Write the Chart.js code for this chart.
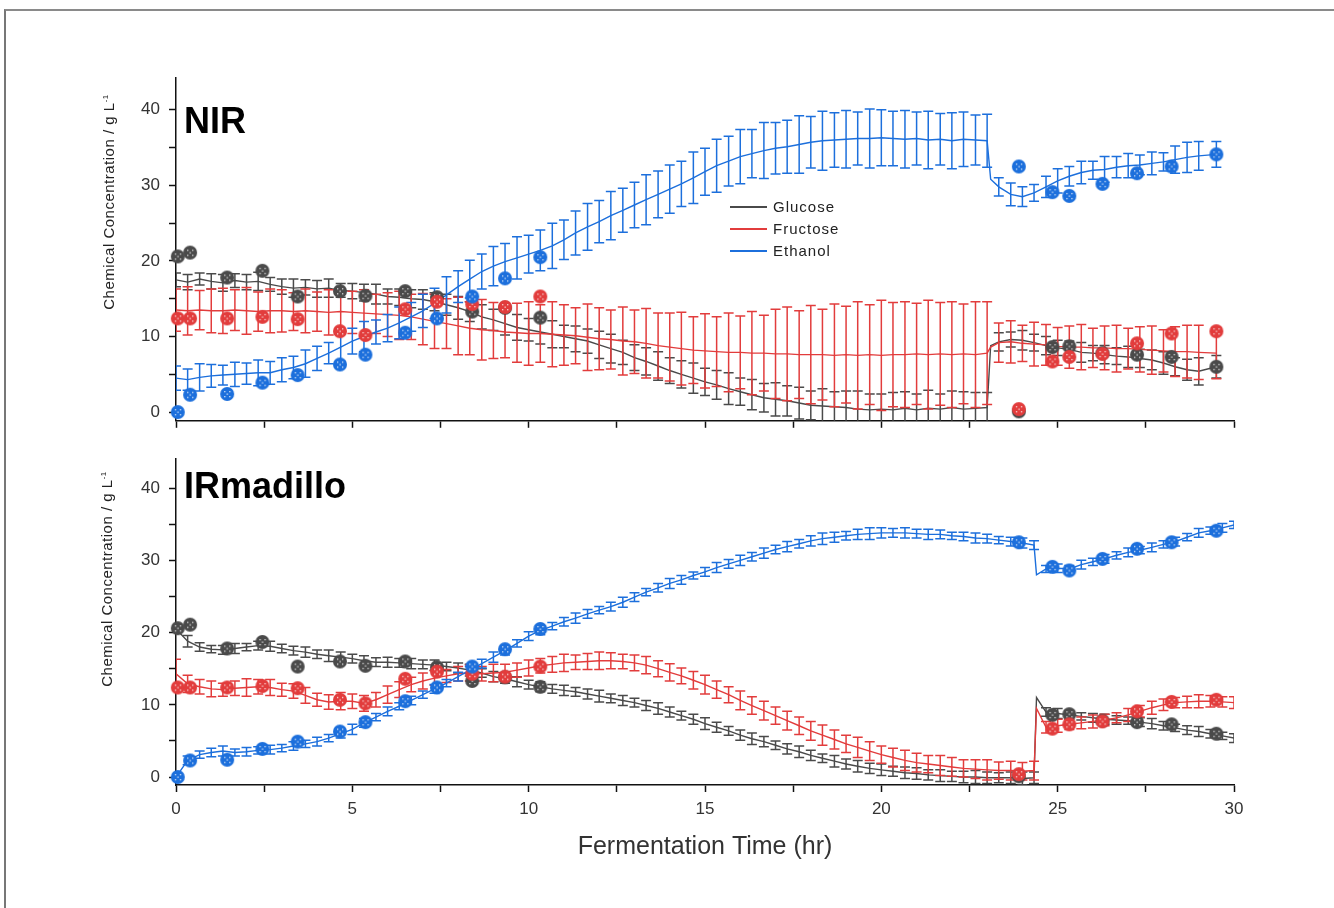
<!DOCTYPE html>
<html>
<head>
<meta charset="utf-8">
<script src="https://cdn.jsdelivr.net/npm/chart.js@4.4.1/dist/chart.umd.min.js"></script>
<style>
  html, body { margin: 0; padding: 0; background: #fff; }
  body { width: 1334px; height: 908px; position: relative; overflow: hidden; font-family: 'Liberation Sans', Arial, sans-serif; }
  .frame { position: absolute; left: 4px; top: 9px; width: 1400px; height: 1000px; border-left: 2px solid #777; border-top: 2px solid #8a8a8a; }
  canvas { position: absolute; left: 0; }
  #topChart { top: 0; }
  #bottomChart { top: 440px; }
  .panel-label { position: absolute; left: 184px; font-size: 36px; font-weight: bold; line-height: 36px; color: #000; }
  .ytitle { position: absolute; font-size: 15px; letter-spacing: 0.5px; color: #222; white-space: nowrap; transform: translate(-50%, -50%) rotate(-90deg); }
  .ytitle sup { font-size: 8px; }
  .legend { position: absolute; left: 730px; top: 196px; font-size: 15px; letter-spacing: 1px; color: #222; }
  .legend div { height: 22px; line-height: 22px; display: flex; align-items: center; }
  .legend span.sw { display: inline-block; width: 37px; height: 2px; margin-right: 6px; }
</style>
</head>
<body>
<div class="frame"></div>
<canvas id="topChart" width="1334" height="440"></canvas>
<canvas id="bottomChart" width="1334" height="468"></canvas>
<div class="panel-label" style="top:103px">NIR</div>
<div class="panel-label" style="top:468px">IRmadillo</div>
<div class="ytitle" style="left:108px; top:202px">Chemical Concentration / g L<sup>-1</sup></div>
<div class="ytitle" style="left:106px; top:579px">Chemical Concentration / g L<sup>-1</sup></div>
<div class="legend">
  <div><span class="sw" style="background:#4a4a4a"></span>Glucose</div>
  <div><span class="sw" style="background:#e23c3c"></span>Fructose</div>
  <div><span class="sw" style="background:#1c6fdc"></span>Ethanol</div>
</div>
<script>
const GRAY = '#4a4a4a';
const RED = '#e23c3c';
const BLUE = '#1c6fdc';

// offline (HPLC) samples, same in both panels
const measTime = [0.05, 0.4, 1.45, 2.45, 3.45, 4.65, 5.37, 6.5, 7.4, 8.4, 9.33, 10.33, 23.9, 24.85, 25.33, 26.27, 27.25, 28.23, 29.5];
const measGlucose = [20.6, 21.1, 17.8, 18.7, 15.3, 16.0, 15.4, 16.0, 15.2, 13.3, 13.8, 12.5, 0.1, 8.6, 8.7, 7.8, 7.6, 7.3, 6.0];
const measFructose = [12.4, 12.4, 12.4, 12.6, 12.3, 10.7, 10.2, 13.6, 14.6, 14.3, 13.9, 15.3, 0.4, 6.7, 7.3, 7.7, 9.1, 10.4, 10.7];
const measEthanol = [0.0, 2.3, 2.4, 3.9, 4.9, 6.3, 7.6, 10.5, 12.4, 15.3, 17.7, 20.5, 32.5, 29.1, 28.6, 30.2, 31.6, 32.5, 34.1];

// NIR predictions
const timeNIR = [0, 0.33, 0.67, 1, 1.33, 1.67, 2, 2.33, 2.67, 3,
  3.33, 3.67, 4, 4.33, 4.67, 5, 5.33, 5.67, 6, 6.33, 6.67,
  7, 7.33, 7.67, 8, 8.33, 8.67, 9, 9.33, 9.67, 10,
  10.33, 10.67, 11, 11.33, 11.67, 12, 12.33, 12.67, 13, 13.33, 13.67,
  14, 14.33, 14.67, 15, 15.33, 15.67, 16, 16.33, 16.67, 17,
  17.33, 17.67, 18, 18.33, 18.67, 19, 19.33, 19.67, 20, 20.33, 20.67,
  21, 21.33, 21.67, 22, 22.33, 22.67, 23,
  23.1,
  23.33, 23.67, 24, 24.33, 24.67, 25, 25.33, 25.67, 26, 26.33, 26.67, 27, 27.33, 27.67, 28, 28.33, 28.67, 29, 29.5];
const glucoseNIR = [17.5, 17.2, 17.6, 17.3, 17.1, 17.4, 17.2, 17.3, 16.9, 16.6,
  16.4, 16.5, 16.3, 16.4, 16.1, 16.0, 15.8, 15.6, 15.3, 15.2, 15.0,
  14.9, 14.6, 14.2, 13.8, 13.3, 12.6, 12.2, 11.7, 11.2, 10.9,
  10.6, 10.3, 10.0, 9.7, 9.4, 8.9, 8.4, 7.9, 7.2, 6.7, 6.1,
  5.5, 5.0, 4.5, 4.0, 3.6, 3.1, 2.7, 2.3, 1.9, 1.7,
  1.5, 1.2, 0.9, 0.8, 0.7, 0.6, 0.4, 0.3, 0.4, 0.3, 0.5,
  0.3, 0.5, 0.4, 0.6, 0.4, 0.5, 0.6,
  8.8,
  9.3, 9.6, 9.5, 9.2, 8.8, 8.5, 8.3, 7.9, 7.8, 7.6, 7.4, 7.3, 7.1, 6.9, 6.5, 6.0, 5.6, 5.4, 6.0];
const glucoseNIRErr = [0.9, 1.0, 0.8, 1.0, 1.1, 0.9, 1.0, 1.2, 0.9, 1.0,
  1.2, 1.0, 1.1, 1.2, 0.9, 1.0, 1.1, 1.3, 1.0, 1.1, 1.2,
  1.3, 1.2, 1.4, 1.5, 1.3, 1.6, 1.4, 1.5, 1.7, 1.5,
  1.6, 1.8, 1.5, 1.7, 1.6, 1.8, 1.9, 1.6, 1.7, 1.8, 1.9,
  1.7, 1.8, 2.0, 1.8, 1.9, 2.1, 1.8, 2.0, 1.9, 2.2,
  2.0, 2.1, 1.9, 2.3, 2.0, 2.2, 2.4, 2.1, 2.0, 2.3, 2.2,
  2.1, 2.4, 2.0, 2.2, 2.3, 2.1, 2.0,
  0,
  1.2, 1.0, 1.3, 1.1, 1.2, 1.0, 1.1, 1.3, 1.0, 1.2, 1.1, 1.4, 1.2, 1.3, 1.5, 1.2, 1.4, 1.8, 1.5];
const fructoseNIR = [13.5, 13.4, 13.5, 13.4, 13.4, 13.5, 13.4, 13.3, 13.4, 13.4,
  13.3, 13.4, 13.3, 13.2, 13.3, 13.2, 13.1, 13.0, 12.9, 12.8, 12.6,
  12.3, 12.0, 11.7, 11.4, 11.1, 10.9, 10.8, 10.6, 10.5, 10.4,
  10.4, 10.3, 10.2, 10.1, 9.9, 9.7, 9.6, 9.4, 9.3, 9.1, 8.8,
  8.6, 8.4, 8.2, 8.1, 8.0, 7.9, 7.9, 7.8, 7.8, 7.7,
  7.7, 7.6, 7.6, 7.6, 7.5, 7.6, 7.5, 7.6, 7.5, 7.6, 7.6,
  7.7, 7.6, 7.7, 7.6, 7.7, 7.6, 7.8,
  8.6,
  9.2, 9.3, 9.1, 9.0, 8.9, 8.7, 8.6, 8.6, 8.5, 8.5, 8.4, 8.4, 8.3, 8.2, 8.1, 8.0, 8.0, 7.9, 7.8];
const fructoseNIRErr = [2.8, 3.2, 2.6, 2.9, 3.0, 2.7, 3.1, 2.6, 2.9, 2.8,
  2.5, 2.9, 2.6, 3.0, 2.7, 2.8, 3.1, 2.6, 2.9, 3.2, 3.0,
  3.4, 3.6, 3.3, 3.8, 3.5, 4.0, 3.7, 3.4, 3.9, 4.2,
  3.8, 4.3, 4.0, 3.7, 4.4, 4.1, 3.9, 4.5, 4.2, 4.6, 4.3,
  4.5, 4.8, 4.4, 4.9, 4.6, 5.2, 4.8, 5.5, 5.0, 5.9,
  6.2, 5.8, 6.5, 6.0, 6.8, 6.4, 7.1, 6.6, 7.3, 6.9, 7.0,
  6.7, 7.2, 6.8, 7.0, 6.6, 7.0, 6.8,
  0,
  2.6, 2.8, 2.4, 2.9, 2.7, 2.5, 2.8, 3.0, 2.6, 2.9, 3.1, 2.7, 3.0, 3.2, 2.8, 3.3, 3.5, 3.6, 3.4];
const ethanolNIR = [4.5, 4.3, 4.6, 4.8, 4.9, 5.0, 5.1, 5.2, 5.2, 5.6,
  5.9, 6.4, 7.1, 7.8, 8.6, 9.4, 10.0, 10.6, 11.1, 11.8, 12.6,
  13.4, 14.4, 15.5, 16.6, 17.6, 18.6, 19.3, 19.9, 20.4, 20.9,
  21.4, 22.0, 22.8, 23.7, 24.5, 25.2, 26.0, 26.7, 27.4, 28.1, 28.8,
  29.5, 30.2, 31.0, 31.8, 32.6, 33.2, 33.8, 34.2, 34.6, 34.9,
  35.1, 35.4, 35.7, 35.9, 36.0, 36.1, 36.2, 36.2, 36.3, 36.2, 36.1,
  36.2, 36.0, 36.1, 35.9, 36.1, 36.0, 35.9,
  30.8,
  29.8, 28.8, 28.5, 29.0, 29.8, 30.6, 31.2, 31.7, 32.0, 32.1, 32.4, 32.6, 32.7, 32.9, 33.1, 33.4, 33.7, 33.9, 34.1];
const ethanolNIRErr = [1.6, 1.4, 1.8, 1.5, 1.3, 1.6, 1.4, 1.7, 1.5, 1.6,
  1.5, 1.8, 1.6, 1.4, 1.9, 1.7, 2.0, 1.6, 1.8, 2.1, 1.9,
  2.2, 2.0, 2.4, 2.1, 2.5, 2.3, 2.6, 2.4, 2.8, 2.5,
  2.7, 3.0, 2.6, 2.9, 3.1, 2.8, 3.2, 2.9, 3.0, 3.3, 3.1,
  3.2, 3.0, 3.4, 3.1, 3.5, 3.3, 3.6, 3.2, 3.7, 3.4,
  3.5, 3.8, 3.4, 3.9, 3.6, 3.8, 3.5, 3.9, 3.7, 3.6, 3.8,
  3.5, 3.8, 3.4, 3.7, 3.6, 3.3, 3.5,
  0,
  1.2, 1.5, 1.3, 1.1, 1.4, 1.6, 1.3, 1.5, 1.2, 1.7, 1.4, 1.6, 1.3, 1.5, 1.2, 1.8, 2.0, 1.9, 1.7];

// IRmadillo predictions
const timeIR = [0, 0.33, 0.67, 1, 1.33, 1.67, 2, 2.33, 2.67, 3,
  3.33, 3.67, 4, 4.33, 4.67, 5, 5.33, 5.67, 6, 6.33, 6.67,
  7, 7.33, 7.67, 8, 8.33, 8.67, 9, 9.33, 9.67, 10,
  10.33, 10.67, 11, 11.33, 11.67, 12, 12.33, 12.67, 13, 13.33, 13.67,
  14, 14.33, 14.67, 15, 15.33, 15.67, 16, 16.33, 16.67, 17,
  17.33, 17.67, 18, 18.33, 18.67, 19, 19.33, 19.67, 20, 20.33, 20.67,
  21, 21.33, 21.67, 22, 22.33, 22.67, 23, 23.33, 23.67, 24, 24.33,
  24.4,
  24.67, 25, 25.33, 25.67, 26, 26.33, 26.67, 27, 27.33, 27.67, 28, 28.33, 28.67, 29, 29.33, 29.67, 30];
const glucoseIR = [20.5, 18.8, 18.0, 17.7, 17.6, 17.8, 18.0, 18.2, 18.1, 17.8,
  17.5, 17.3, 17.0, 16.8, 16.6, 16.4, 16.1, 15.9, 15.9, 15.8, 15.7,
  15.6, 15.5, 15.3, 15.1, 14.8, 14.4, 13.9, 13.6, 13.2, 12.8,
  12.5, 12.2, 12.0, 11.8, 11.5, 11.2, 10.9, 10.6, 10.3, 9.9, 9.5,
  9.0, 8.5, 8.0, 7.4, 6.9, 6.4, 5.8, 5.3, 4.9, 4.4,
  3.9, 3.5, 3.0, 2.6, 2.2, 1.8, 1.5, 1.2, 1.0, 0.8, 0.6,
  0.5, 0.3, 0.2, 0.1, 0.0, 0.0, -0.1, -0.1, -0.1, -0.2, -0.1,
  11.0,
  9.0, 8.8, 8.6, 8.4, 8.2, 8.0, 7.9, 7.8, 7.6, 7.4, 7.1, 6.8, 6.5, 6.3, 6.0, 5.7, 5.4];
const glucoseIRErr = [0.5, 0.8, 0.6, 0.5, 0.6, 0.7, 0.5, 0.6, 0.7, 0.6,
  0.6, 0.7, 0.6, 0.8, 0.7, 0.6, 0.7, 0.6, 0.7, 0.6, 0.7,
  0.6, 0.7, 0.6, 0.7, 0.8, 0.6, 0.7, 0.6, 0.7, 0.6,
  0.7, 0.6, 0.7, 0.6, 0.7, 0.8, 0.6, 0.7, 0.6, 0.7, 0.8,
  0.7, 0.6, 0.7, 0.8, 0.7, 0.6, 0.7, 0.8, 0.7, 0.6,
  0.7, 0.8, 0.7, 0.6, 0.8, 0.7, 0.8, 0.7, 0.8, 0.7, 0.8,
  0.8, 0.7, 0.8, 0.7, 0.8, 0.9, 0.8, 0.7, 0.8, 0.9, 0.8,
  0,
  0.6, 0.7, 0.6, 0.5, 0.6, 0.7, 0.6, 0.5, 0.6, 0.7, 0.6, 0.5, 0.6, 0.7, 0.6, 0.5, 0.6];
const fructoseIR = [14.3, 12.9, 12.5, 12.2, 12.1, 12.3, 12.4, 12.5, 12.4, 12.1,
  11.9, 11.3, 10.7, 10.4, 10.5, 10.5, 10.2, 10.7, 11.4, 12.1, 12.8,
  13.3, 13.7, 14.0, 14.3, 14.4, 14.3, 14.4, 14.5, 14.8, 15.1,
  15.4, 15.6, 15.8, 15.9, 16.0, 16.1, 16.1, 16.0, 15.8, 15.5, 15.0,
  14.5, 14.0, 13.4, 12.8, 12.1, 11.4, 10.6, 9.9, 9.2, 8.5,
  7.8, 7.1, 6.4, 5.8, 5.2, 4.6, 4.1, 3.6, 3.1, 2.7, 2.3,
  2.0, 1.8, 1.6, 1.4, 1.2, 1.1, 1.0, 0.9, 0.9, 0.8, 0.9,
  9.5,
  6.9, 7.1, 7.3, 7.5, 7.7, 7.9, 8.2, 8.6, 9.1, 9.6, 10.0, 10.3, 10.4, 10.5, 10.5, 10.4, 10.3];
const fructoseIRErr = [2.0, 1.2, 1.0, 1.1, 0.9, 1.0, 1.2, 1.0, 1.1, 0.9,
  1.0, 1.1, 0.9, 1.0, 1.2, 1.0, 1.1, 1.0, 1.2, 1.1, 1.0,
  1.1, 1.0, 0.9, 1.0, 1.1, 1.0, 1.2, 1.1, 1.0, 1.1,
  1.0, 1.1, 1.2, 1.0, 1.1, 1.2, 1.1, 1.0, 1.1, 1.2, 1.1,
  1.2, 1.1, 1.2, 1.3, 1.2, 1.1, 1.3, 1.2, 1.3, 1.2,
  1.3, 1.2, 1.3, 1.4, 1.3, 1.2, 1.4, 1.3, 1.2, 1.3, 1.4,
  1.3, 1.2, 1.4, 1.3, 1.2, 1.3, 1.4, 1.2, 1.3, 1.2, 1.3,
  0,
  0.8, 0.9, 0.7, 0.8, 0.9, 0.8, 0.7, 0.9, 0.8, 0.9, 0.8, 0.7, 0.8, 0.9, 0.8, 0.7, 0.8];
const ethanolIR = [0.0, 2.3, 3.1, 3.4, 3.6, 3.4, 3.5, 3.7, 3.8, 4.0,
  4.3, 4.6, 4.9, 5.4, 6.0, 6.6, 7.5, 8.3, 9.1, 9.8, 10.6,
  11.4, 12.2, 13.0, 13.9, 14.8, 15.7, 16.6, 17.5, 18.5, 19.5,
  20.3, 20.9, 21.5, 22.0, 22.6, 23.1, 23.6, 24.2, 24.9, 25.6, 26.2,
  26.8, 27.3, 27.9, 28.4, 29.0, 29.5, 30.0, 30.5, 31.0, 31.5,
  31.9, 32.3, 32.7, 33.0, 33.2, 33.4, 33.6, 33.7, 33.8, 33.8, 33.8,
  33.7, 33.6, 33.6, 33.4, 33.3, 33.1, 33.0, 32.8, 32.6, 32.4, 32.1,
  28.0,
  28.8, 28.9, 28.8, 29.4, 29.8, 30.2, 30.7, 31.1, 31.4, 31.8, 32.2, 32.6, 33.2, 33.8, 34.1, 34.5, 34.9];
const ethanolIRErr = [0.3, 0.6, 0.5, 0.6, 0.7, 0.5, 0.6, 0.5, 0.6, 0.5,
  0.6, 0.5, 0.6, 0.5, 0.6, 0.7, 0.6, 0.5, 0.6, 0.5, 0.6,
  0.5, 0.6, 0.5, 0.6, 0.5, 0.6, 0.7, 0.6, 0.5, 0.6,
  0.6, 0.5, 0.6, 0.7, 0.6, 0.5, 0.6, 0.7, 0.6, 0.5, 0.6,
  0.7, 0.6, 0.5, 0.6, 0.7, 0.6, 0.7, 0.6, 0.7, 0.6,
  0.7, 0.6, 0.7, 0.8, 0.7, 0.6, 0.7, 0.8, 0.7, 0.6, 0.7,
  0.6, 0.7, 0.6, 0.5, 0.6, 0.7, 0.6, 0.5, 0.6, 0.7, 0.6,
  0,
  0.5, 0.6, 0.5, 0.6, 0.5, 0.6, 0.5, 0.6, 0.5, 0.6, 0.5, 0.6, 0.5, 0.6, 0.5, 0.6, 0.5];

const xTicks = [0, 5, 10, 15, 20, 25, 30];

// error bars drawn right after each line, so layering follows dataset order
const errorBars = {
  id: 'errorBars',
  afterDatasetDraw(chart, args) {
    const ds = chart.data.datasets[args.index];
    if (!ds.errors) return;
    const { ctx, chartArea, scales: { x, y } } = chart;
    ctx.save();
    ctx.beginPath();
    ctx.rect(chartArea.left, chartArea.top, chartArea.width, chartArea.height);
    ctx.clip();
    ctx.strokeStyle = ds.borderColor;
    ctx.lineWidth = 1.5;
    ctx.beginPath();
    ds.data.forEach((p, i) => {
      const e = ds.errors[i];
      if (!e) return;
      const px = x.getPixelForValue(p.x);
      const top = y.getPixelForValue(p.y + e);
      const bot = y.getPixelForValue(p.y - e);
      ctx.moveTo(px, top); ctx.lineTo(px, bot);
      ctx.moveTo(px - 5, top); ctx.lineTo(px + 5, top);
      ctx.moveTo(px - 5, bot); ctx.lineTo(px + 5, bot);
    });
    ctx.stroke();
    ctx.restore();
  }
};

function makeMarker(color) {
  const c = document.createElement('canvas');
  c.width = 16; c.height = 16;
  const g = c.getContext('2d');
  g.fillStyle = color;
  g.beginPath();
  g.arc(8, 8, 7, 0, Math.PI * 2);
  g.fill();
  g.fillStyle = 'rgba(255,255,255,0.8)';
  [[5, 5], [10, 5], [5, 10], [10, 10], [7.5, 7.5]].forEach(([a, b]) => g.fillRect(a, b, 1.3, 1.3));
  return c;
}

const pts = (t, v) => t.map((x, i) => ({ x, y: v[i] }));

function lineSet(t, v, err, color) {
  return { data: pts(t, v), errors: err, borderColor: color, borderWidth: 1.4, pointRadius: 0, tension: 0, fill: false };
}

function markerSet(v, color) {
  return { data: pts(measTime, v), showLine: false, pointStyle: makeMarker(color), pointRadius: 8, clip: false, borderColor: color };
}

function makePanel(id, lines, yMin, yMax, padTop, xHeight, showXLabels) {
  const axisFont = { family: "'Liberation Sans', Arial, sans-serif", size: 17 };
  return new Chart(document.getElementById(id), {
    type: 'line',
    data: {
      datasets: [
        markerSet(measEthanol, BLUE),
        markerSet(measFructose, RED),
        markerSet(measGlucose, GRAY),
        lineSet(lines.t, lines.eth, lines.ethErr, BLUE),
        lineSet(lines.t, lines.fru, lines.fruErr, RED),
        lineSet(lines.t, lines.glu, lines.gluErr, GRAY),
      ]
    },
    options: {
      responsive: false,
      animation: false,
      layout: { padding: { left: 96, right: 100, top: padTop, bottom: 0 } },
      plugins: { legend: { display: false }, tooltip: { enabled: false } },
      scales: {
        x: {
          type: 'linear',
          min: 0,
          max: 30,
          afterFit: s => { s.height = xHeight; },
          grid: { drawOnChartArea: false, drawTicks: true, tickLength: 7, tickColor: '#111', tickWidth: 1.5 },
          border: { display: true, color: '#111', width: 1.5 },
          ticks: {
            stepSize: 2.5,
            padding: 7,
            color: '#333',
            font: axisFont,
            maxRotation: 0,
            autoSkip: false,
            callback: v => (showXLabels && xTicks.includes(v)) ? v : ''
          },
          title: {
            display: showXLabels,
            text: 'Fermentation Time (hr)',
            color: '#333',
            font: { family: "'Liberation Sans', Arial, sans-serif", size: 25 },
            padding: 46
          }
        },
        y: {
          min: yMin,
          max: yMax,
          afterFit: s => { s.width = 80; },
          grid: { drawOnChartArea: false, drawTicks: true, tickLength: 7, tickColor: '#111', tickWidth: 1.5 },
          border: { display: true, color: '#111', width: 1.5 },
          ticks: {
            stepSize: 5,
            includeBounds: false,
            padding: 9,
            color: '#333',
            font: axisFont,
            callback: v => v % 10 === 0 ? v : ''
          }
        }
      }
    },
    plugins: [errorBars]
  });
}

makePanel('topChart', {
  t: timeNIR,
  glu: glucoseNIR, gluErr: glucoseNIRErr,
  fru: fructoseNIR, fruErr: fructoseNIRErr,
  eth: ethanolNIR, ethErr: ethanolNIRErr
}, -1.15, 44.2, 78, 19, false);

makePanel('bottomChart', {
  t: timeIR,
  glu: glucoseIR, gluErr: glucoseIRErr,
  fru: fructoseIR, fruErr: fructoseIRErr,
  eth: ethanolIR, ethErr: ethanolIRErr
}, -1.1, 44.0, 3, 123, true);
</script>
</body>
</html>
